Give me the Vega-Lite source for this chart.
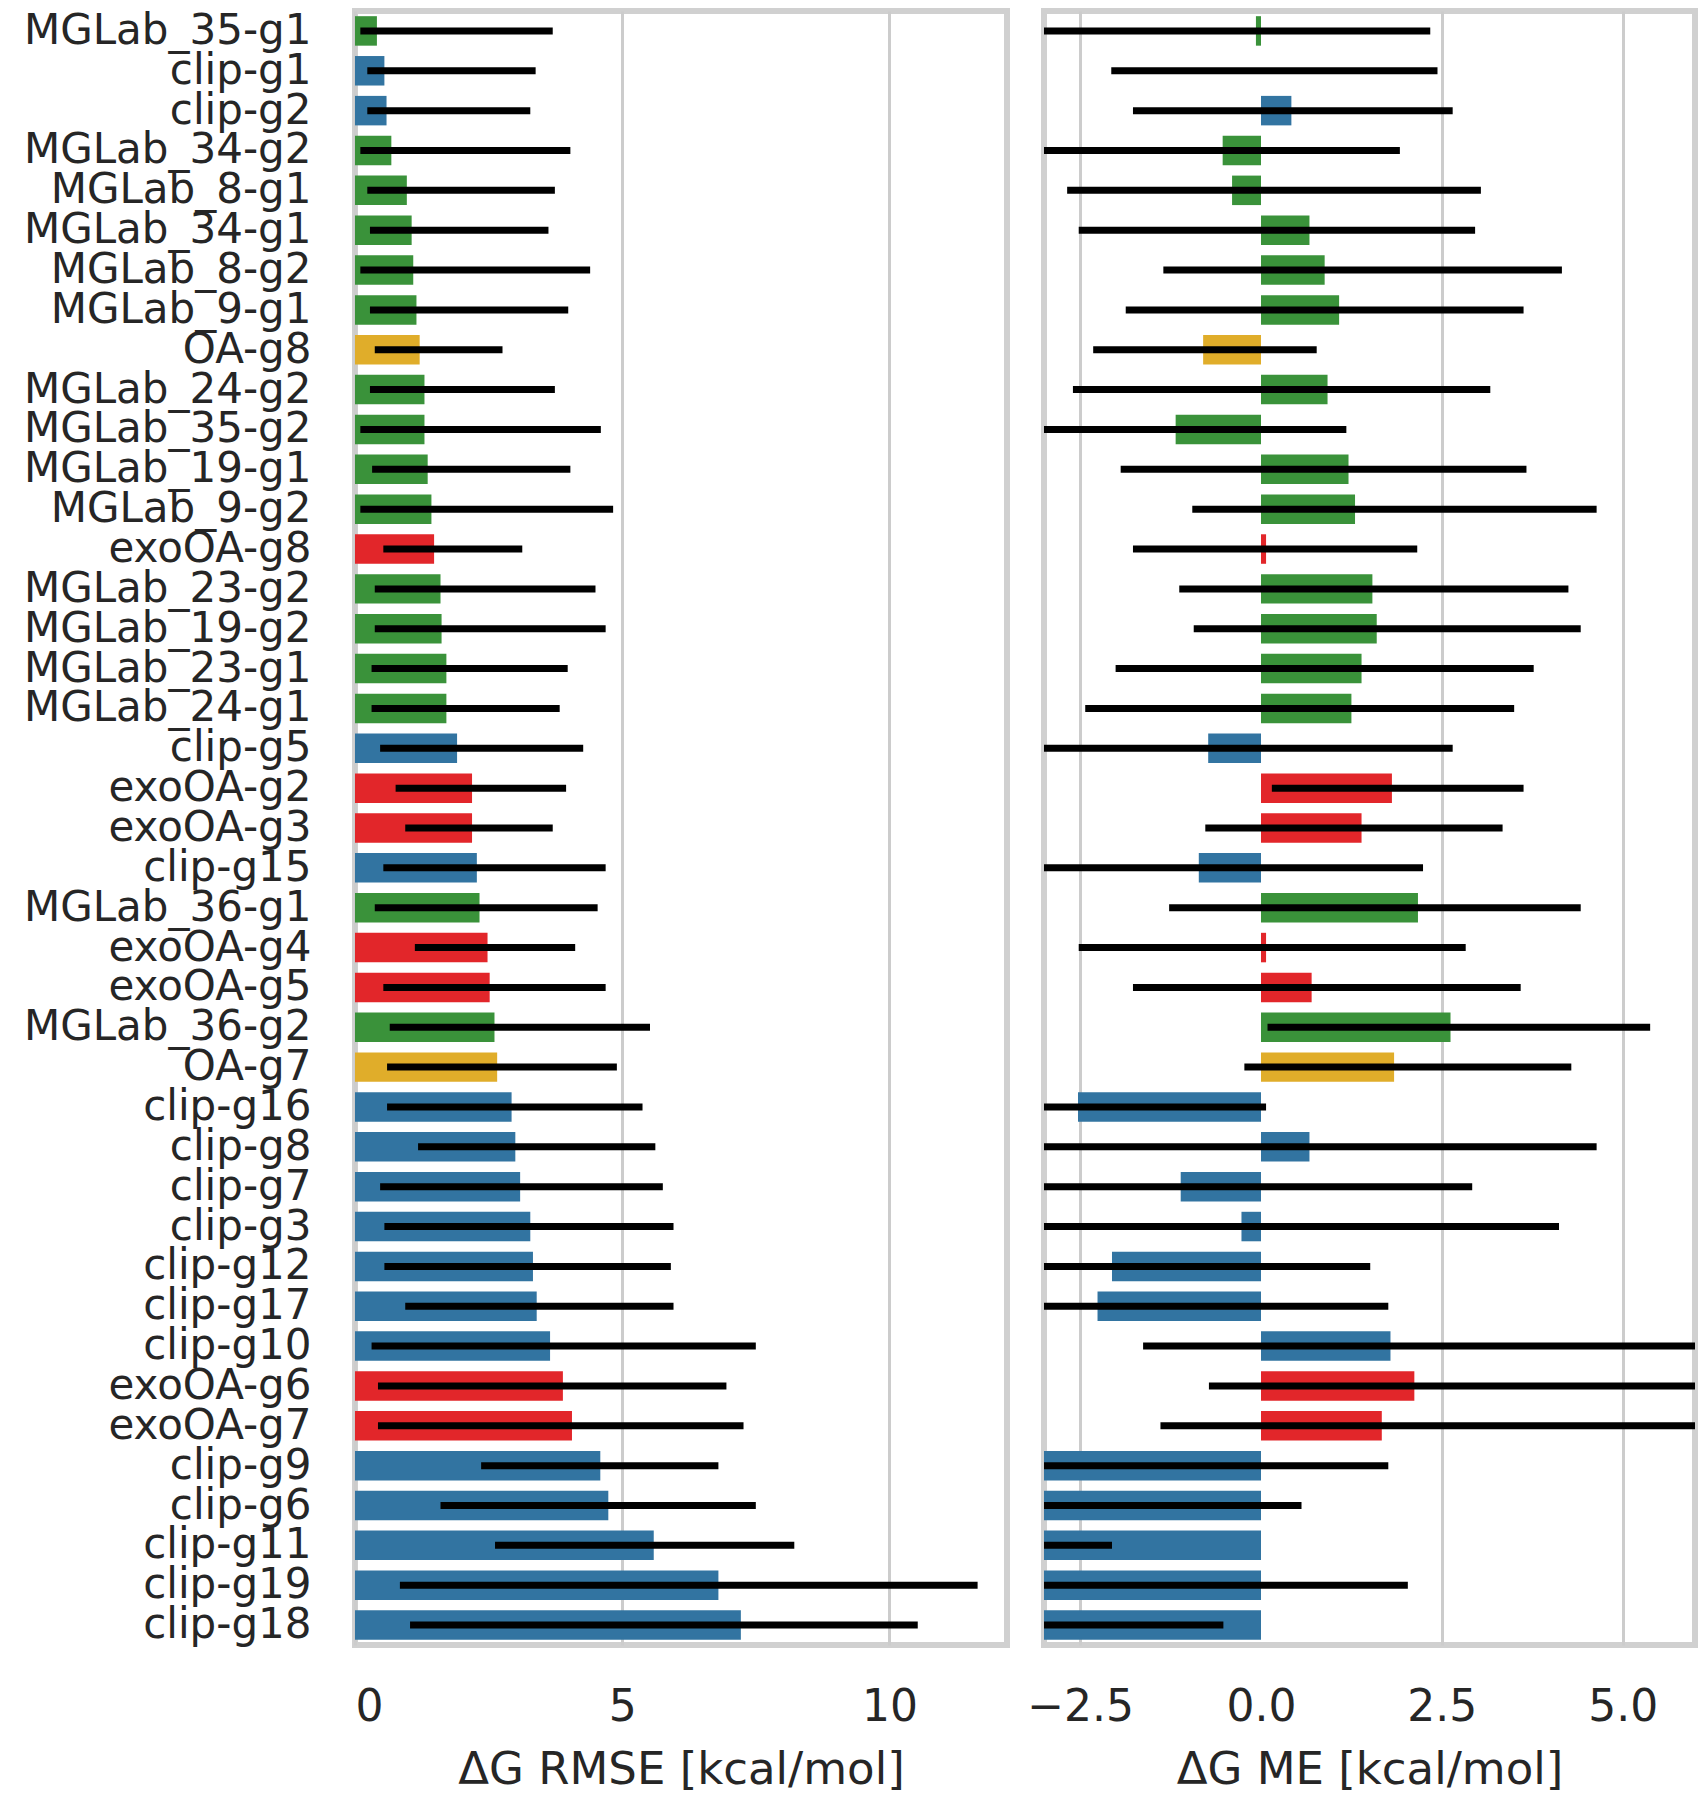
{
  "$schema": "https://vega.github.io/schema/vega-lite/v6.json",
  "padding": {"left": 20, "top": 6, "right": 8, "bottom": 5},
  "background": "white",
  "data": {
    "values": [
      {"name": "MGLab_35-g1", "grp": "MGLab", "rmse": 0.41, "rlo": 0.1, "rhi": 3.70, "me": -0.07, "mlo": -3.3, "mhi": 2.34},
      {"name": "clip-g1", "grp": "clip", "rmse": 0.55, "rlo": 0.23, "rhi": 3.38, "me": 0.0, "mlo": -2.07, "mhi": 2.44},
      {"name": "clip-g2", "grp": "clip", "rmse": 0.59, "rlo": 0.23, "rhi": 3.28, "me": 0.42, "mlo": -1.77, "mhi": 2.65},
      {"name": "MGLab_34-g2", "grp": "MGLab", "rmse": 0.68, "rlo": 0.1, "rhi": 4.03, "me": -0.53, "mlo": -3.2, "mhi": 1.92},
      {"name": "MGLab_8-g1", "grp": "MGLab", "rmse": 0.97, "rlo": 0.23, "rhi": 3.74, "me": -0.40, "mlo": -2.68, "mhi": 3.04},
      {"name": "MGLab_34-g1", "grp": "MGLab", "rmse": 1.06, "rlo": 0.28, "rhi": 3.62, "me": 0.67, "mlo": -2.52, "mhi": 2.96},
      {"name": "MGLab_8-g2", "grp": "MGLab", "rmse": 1.09, "rlo": 0.1, "rhi": 4.40, "me": 0.88, "mlo": -1.35, "mhi": 4.16},
      {"name": "MGLab_9-g1", "grp": "MGLab", "rmse": 1.15, "rlo": 0.28, "rhi": 3.99, "me": 1.08, "mlo": -1.87, "mhi": 3.63},
      {"name": "OA-g8", "grp": "OA", "rmse": 1.21, "rlo": 0.37, "rhi": 2.76, "me": -0.80, "mlo": -2.32, "mhi": 0.77},
      {"name": "MGLab_24-g2", "grp": "MGLab", "rmse": 1.30, "rlo": 0.28, "rhi": 3.74, "me": 0.92, "mlo": -2.60, "mhi": 3.17},
      {"name": "MGLab_35-g2", "grp": "MGLab", "rmse": 1.30, "rlo": 0.1, "rhi": 4.60, "me": -1.18, "mlo": -3.3, "mhi": 1.18},
      {"name": "MGLab_19-g1", "grp": "MGLab", "rmse": 1.36, "rlo": 0.32, "rhi": 4.03, "me": 1.21, "mlo": -1.94, "mhi": 3.67},
      {"name": "MGLab_9-g2", "grp": "MGLab", "rmse": 1.43, "rlo": 0.1, "rhi": 4.83, "me": 1.30, "mlo": -0.95, "mhi": 4.64},
      {"name": "exoOA-g8", "grp": "exoOA", "rmse": 1.48, "rlo": 0.53, "rhi": 3.13, "me": 0.07, "mlo": -1.77, "mhi": 2.16},
      {"name": "MGLab_23-g2", "grp": "MGLab", "rmse": 1.60, "rlo": 0.37, "rhi": 4.50, "me": 1.54, "mlo": -1.13, "mhi": 4.25},
      {"name": "MGLab_19-g2", "grp": "MGLab", "rmse": 1.62, "rlo": 0.37, "rhi": 4.69, "me": 1.60, "mlo": -0.93, "mhi": 4.42},
      {"name": "MGLab_23-g1", "grp": "MGLab", "rmse": 1.71, "rlo": 0.31, "rhi": 3.98, "me": 1.39, "mlo": -2.01, "mhi": 3.77},
      {"name": "MGLab_24-g1", "grp": "MGLab", "rmse": 1.71, "rlo": 0.31, "rhi": 3.83, "me": 1.25, "mlo": -2.43, "mhi": 3.50},
      {"name": "clip-g5", "grp": "clip", "rmse": 1.91, "rlo": 0.47, "rhi": 4.27, "me": -0.73, "mlo": -3.4, "mhi": 2.65},
      {"name": "exoOA-g2", "grp": "exoOA", "rmse": 2.19, "rlo": 0.76, "rhi": 3.95, "me": 1.81, "mlo": 0.15, "mhi": 3.63},
      {"name": "exoOA-g3", "grp": "exoOA", "rmse": 2.19, "rlo": 0.94, "rhi": 3.70, "me": 1.39, "mlo": -0.77, "mhi": 3.34},
      {"name": "clip-g15", "grp": "clip", "rmse": 2.28, "rlo": 0.53, "rhi": 4.69, "me": -0.86, "mlo": -3.5, "mhi": 2.24},
      {"name": "MGLab_36-g1", "grp": "MGLab", "rmse": 2.33, "rlo": 0.37, "rhi": 4.54, "me": 2.17, "mlo": -1.27, "mhi": 4.42},
      {"name": "exoOA-g4", "grp": "exoOA", "rmse": 2.48, "rlo": 1.12, "rhi": 4.12, "me": 0.07, "mlo": -2.52, "mhi": 2.83},
      {"name": "exoOA-g5", "grp": "exoOA", "rmse": 2.52, "rlo": 0.53, "rhi": 4.69, "me": 0.70, "mlo": -1.77, "mhi": 3.59},
      {"name": "MGLab_36-g2", "grp": "MGLab", "rmse": 2.61, "rlo": 0.65, "rhi": 5.52, "me": 2.62, "mlo": 0.09, "mhi": 5.38},
      {"name": "OA-g7", "grp": "OA", "rmse": 2.66, "rlo": 0.60, "rhi": 4.90, "me": 1.84, "mlo": -0.23, "mhi": 4.29},
      {"name": "clip-g16", "grp": "clip", "rmse": 2.93, "rlo": 0.60, "rhi": 5.38, "me": -2.53, "mlo": -4.8, "mhi": 0.07},
      {"name": "clip-g8", "grp": "clip", "rmse": 3.00, "rlo": 1.18, "rhi": 5.62, "me": 0.67, "mlo": -3.6, "mhi": 4.64},
      {"name": "clip-g7", "grp": "clip", "rmse": 3.09, "rlo": 0.47, "rhi": 5.76, "me": -1.11, "mlo": -4.6, "mhi": 2.92},
      {"name": "clip-g3", "grp": "clip", "rmse": 3.28, "rlo": 0.55, "rhi": 5.96, "me": -0.27, "mlo": -4.2, "mhi": 4.12},
      {"name": "clip-g12", "grp": "clip", "rmse": 3.33, "rlo": 0.55, "rhi": 5.91, "me": -2.06, "mlo": -5.3, "mhi": 1.51},
      {"name": "clip-g17", "grp": "clip", "rmse": 3.40, "rlo": 0.94, "rhi": 5.96, "me": -2.26, "mlo": -5.6, "mhi": 1.76},
      {"name": "clip-g10", "grp": "clip", "rmse": 3.65, "rlo": 0.31, "rhi": 7.50, "me": 1.79, "mlo": -1.63, "mhi": 6.4},
      {"name": "exoOA-g6", "grp": "exoOA", "rmse": 3.89, "rlo": 0.43, "rhi": 6.95, "me": 2.12, "mlo": -0.72, "mhi": 6.3},
      {"name": "exoOA-g7", "grp": "exoOA", "rmse": 4.06, "rlo": 0.43, "rhi": 7.27, "me": 1.67, "mlo": -1.39, "mhi": 6.5},
      {"name": "clip-g9", "grp": "clip", "rmse": 4.59, "rlo": 2.36, "rhi": 6.80, "me": -4.4, "mlo": -7.5, "mhi": 1.76},
      {"name": "clip-g6", "grp": "clip", "rmse": 4.74, "rlo": 1.60, "rhi": 7.50, "me": -4.6, "mlo": -7.9, "mhi": 0.56},
      {"name": "clip-g11", "grp": "clip", "rmse": 5.59, "rlo": 2.62, "rhi": 8.22, "me": -5.5, "mlo": -8.5, "mhi": -2.06},
      {"name": "clip-g19", "grp": "clip", "rmse": 6.80, "rlo": 0.84, "rhi": 11.65, "me": -6.7, "mlo": -11.0, "mhi": 2.03},
      {"name": "clip-g18", "grp": "clip", "rmse": 7.22, "rlo": 1.03, "rhi": 10.53, "me": -7.1, "mlo": -11.0, "mhi": -0.52}
    ]
  },
  "spacing": 13,
  "hconcat": [
    {
      "width": 652,
      "height": 1634,
      "encoding": {
        "y": {"field": "name", "type": "nominal", "sort": null,
              "scale": {"paddingInner": 0, "paddingOuter": 0},
              "axis": {"title": null, "labelPadding": 44, "grid": false, "labelLimit": 0, "labelFontSize": 42}}
      },
      "layer": [
        {
          "mark": {"type": "bar", "height": {"band": 0.74}},
          "encoding": {
            "x": {"field": "rmse", "type": "quantitative",
                  "scale": {"domain": [0, 12.2], "nice": false, "zero": false},
                  "axis": {"title": "ΔG RMSE [kcal/mol]", "values": [0, 5, 10], "labelPadding": 40, "titlePadding": 18}},
            "color": {"field": "grp", "type": "nominal",
                      "scale": {"domain": ["clip", "MGLab", "exoOA", "OA"], "range": ["#3274a1", "#3a923a", "#e2262a", "#e0ad2a"]},
                      "legend": null}
          }
        },
        {
          "mark": {"type": "rule", "strokeWidth": 7, "color": "#000000", "clip": true},
          "encoding": {
            "x": {"field": "rlo", "type": "quantitative"},
            "x2": {"field": "rhi"}
          }
        }
      ]
    },
    {
      "width": 651,
      "height": 1634,
      "encoding": {
        "y": {"field": "name", "type": "nominal", "sort": null,
              "scale": {"paddingInner": 0, "paddingOuter": 0},
              "axis": null}
      },
      "layer": [
        {
          "mark": {"type": "bar", "height": {"band": 0.74}, "clip": true},
          "encoding": {
            "x": {"field": "me", "type": "quantitative",
                  "scale": {"domain": [-3, 6], "nice": false, "zero": false},
                  "axis": {"title": "ΔG ME [kcal/mol]", "values": [-2.5, 0, 2.5, 5], "format": ".1f", "labelPadding": 40, "titlePadding": 18,
                           "gridOpacity": {"condition": {"test": "datum.value === 0", "value": 0}, "value": 1}}},
            "color": {"field": "grp", "type": "nominal",
                      "scale": {"domain": ["clip", "MGLab", "exoOA", "OA"], "range": ["#3274a1", "#3a923a", "#e2262a", "#e0ad2a"]},
                      "legend": null}
          }
        },
        {
          "mark": {"type": "rule", "strokeWidth": 5, "color": "white"},
          "encoding": {"x": {"datum": 0}}
        },
        {
          "mark": {"type": "rule", "strokeWidth": 7, "color": "#000000", "clip": true},
          "encoding": {
            "x": {"field": "mlo", "type": "quantitative"},
            "x2": {"field": "mhi"}
          }
        }
      ]
    }
  ],
  "config": {
    "font": "DejaVu Sans",
    "view": {"stroke": "#d0d0d0", "strokeWidth": 6},
    "axis": {
      "labelFont": "DejaVu Sans",
      "titleFont": "DejaVu Sans",
      "labelFontSize": 44,
      "titleFontSize": 45,
      "titleFontWeight": "normal",
      "labelColor": "#262626",
      "titleColor": "#262626",
      "domain": false,
      "ticks": false,
      "gridColor": "#cccccc",
      "gridWidth": 3
    }
  }
}
